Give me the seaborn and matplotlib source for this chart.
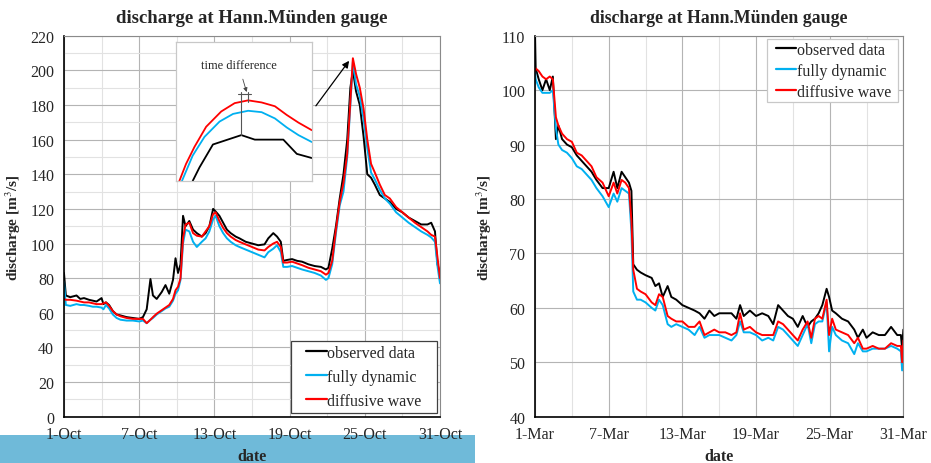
import matplotlib

matplotlib.use("Agg")

import matplotlib.pyplot as plt
import pandas as pd
import seaborn as sns
from matplotlib.legend_handler import HandlerLine2D
from matplotlib.lines import Line2D
from matplotlib.patches import Rectangle
from matplotlib.ticker import FixedLocator, MultipleLocator

# ---- October event (left panel) ----
oct_days = [
    1.0, 1.15, 1.5, 2.0, 2.3, 2.6, 3.0, 3.3, 3.6, 4.0, 4.15, 4.35, 4.6, 4.9,
    5.2, 5.5, 6.0, 6.5, 7.0, 7.3, 7.6, 7.9, 8.1, 8.4, 8.8, 9.1, 9.4, 9.7, 9.9,
    10.1, 10.3, 10.5, 10.7, 11.0, 11.3, 11.6, 12.0, 12.3, 12.6, 12.9, 13.1,
    13.4, 13.7, 14.0, 14.3, 14.7, 15.0, 15.5, 16.0, 16.5, 17.0, 17.3, 17.7,
    18.0, 18.3, 18.5, 18.8, 19.2, 19.6, 20.0, 20.5, 21.0, 21.5, 21.9, 22.1,
    22.4, 22.7, 23.0, 23.3, 23.6, 23.85, 24.05, 24.3, 24.6, 24.9, 25.2, 25.5,
    25.8, 26.2, 26.6, 27.0, 27.5, 28.0, 28.5, 29.0, 29.5, 30.0, 30.3, 30.6,
    30.8, 31.0,
]
oct_observed = [
    83, 70, 69, 70, 68, 68.5, 67.5, 67, 66.5, 68.5, 65, 66, 64.5, 61,
    59, 58.5, 57.5, 57, 56.5, 57.5, 62, 79.5, 70, 68, 72, 76, 71, 79, 91.5,
    83, 88, 116, 110, 113, 108, 106, 104, 106, 110, 120, 118.5,
    116, 112, 108, 106, 104, 103, 101, 100, 99, 99.5, 103, 106,
    104, 101, 90, 90.5, 91, 90, 89.5, 88, 87, 86.5, 85, 86,
    97, 110, 126, 140, 160, 190, 200, 188, 180, 162, 140, 138,
    134, 128, 126, 124, 120, 118, 115, 113, 111, 111, 112, 107,
    88, 83,
]
oct_dynamic = [
    78, 64.5, 64, 65, 64.5, 64.5, 64, 63.5, 63.5, 63, 62, 64.5, 62.5, 59,
    57, 56, 55.5, 55.5, 55, 55.5, 54, 56, 57, 59, 61, 62.5, 63.5, 67, 71,
    73, 79, 100, 108, 107, 101, 98, 101, 103, 107, 114, 116,
    110, 106, 103, 101, 99, 98, 96.5, 95, 93.5, 92, 95, 97,
    99, 95, 86.5, 86.5, 87, 86, 85, 84, 83, 81.5, 79, 80,
    88, 106, 122, 130, 150, 180, 205, 192, 185, 172, 155, 141,
    137, 131, 126, 123, 118, 115, 112, 109.5, 107, 105, 103.5, 101,
    87, 77,
]
oct_diffusive = [
    68, 67.5, 67.5, 67, 66.5, 66, 66, 65.5, 65, 65, 65.5, 66, 64, 61,
    59, 58, 57, 56.5, 56.5, 56.5, 54, 56, 57.5, 59.5, 61.5, 63, 64.5, 68, 73,
    75, 80, 103, 111, 112, 106, 104.5, 104, 107, 110, 117, 118,
    113, 109, 106, 104, 102, 101, 99.5, 98, 96.5, 96, 98, 100,
    101, 98, 89, 89, 89.5, 88.5, 87.5, 86, 85, 84, 82, 83,
    90, 108, 124, 135, 152, 182, 207, 198, 190, 178, 160, 146,
    141, 134, 128, 126, 121, 118, 115, 112, 109.5, 107, 105, 104,
    92, 80,
]

# ---- March event (right panel) ----
mar_days = [
    1.0, 1.05, 1.3, 1.6, 1.9, 2.2, 2.45, 2.7, 2.9, 3.2, 3.6, 4.0, 4.4, 4.8,
    5.2, 5.6, 6.0, 6.5, 7.0, 7.4, 7.7, 8.05, 8.35, 8.65, 8.85, 9.0, 9.3, 9.6,
    10.0, 10.5, 10.8, 11.1, 11.4, 11.8, 12.1, 12.5, 13.0, 13.5, 14.0, 14.4,
    14.8, 15.2, 15.6, 16.0, 16.5, 17.0, 17.4, 17.7, 18.0, 18.5, 19.0, 19.5,
    20.0, 20.4, 20.8, 21.2, 21.6, 22.0, 22.4, 22.8, 23.2, 23.5, 23.8, 24.1,
    24.4, 24.75, 24.95, 25.2, 25.5, 26.0, 26.5, 27.0, 27.3, 27.7, 28.0, 28.5,
    29.0, 29.5, 30.0, 30.5, 30.8, 30.9, 31.0,
]
mar_observed = [
    110, 104, 102, 100, 102, 100, 102.5, 91, 93.5, 91, 90, 89.5, 88, 87,
    86, 85, 83.5, 82, 82, 85, 82, 85, 84, 83, 81.5, 68, 67, 66.5,
    66, 65.5, 64, 64.5, 62, 64, 62, 61.5, 60.5, 60, 59.5, 59,
    58, 59.5, 58.5, 59, 59, 59, 58, 60.5, 58.5, 59.5, 58.5, 59,
    58.5, 57, 60.5, 59.5, 58.5, 58, 56.5, 58.5, 56.5, 57.5, 58, 59,
    60.5, 63.5, 62, 59.5, 59, 58, 57.5, 56, 54.5, 56, 54.5, 55.5,
    55, 55, 56.5, 55, 55, 52.5, 56,
]
mar_dynamic = [
    103.5, 102, 100.5, 99.5, 99.5, 99.5, 100, 93, 90, 89, 88.5, 87.5, 86, 85.5,
    84.5, 83.5, 82, 80.5, 78.5, 81, 79.5, 82, 81.5, 81, 74, 63, 61.5, 61.5,
    61, 60, 59.5, 61.5, 60.5, 57, 56.5, 57, 56.5, 56, 55, 56.5,
    54.5, 55, 55, 55, 54.5, 54, 55, 57.5, 55.5, 55.5, 55, 54,
    54.5, 54, 56.5, 56, 55, 54, 53, 55, 57, 53.5, 57, 57.5,
    57.5, 61, 52, 56.5, 55, 54, 53.5, 51.5, 53.5, 52, 52, 52.5,
    52.5, 52.5, 53, 52.5, 52, 48.5, 53,
]
mar_diffusive = [
    103.5, 104, 103.5, 102.5, 102, 102.5, 102, 95, 93.5, 92, 91, 90.5, 88.5, 88,
    87, 86, 84, 83, 80.5, 83, 81, 83.5, 83, 82, 76, 67, 63.5, 63,
    62.5, 61, 60.5, 62.5, 62, 58.5, 58, 57.5, 57.5, 56.5, 56.5, 57.5,
    55, 55.5, 56, 55.5, 55.5, 55, 55.5, 59, 56, 56.5, 55.5, 55,
    55, 55, 57.5, 57, 56, 55, 54, 56, 57.5, 54.5, 58, 58.5,
    58, 61.5, 55, 58, 56, 55.5, 55, 53.5, 54.5, 52.5, 52.5, 53,
    52.5, 52.5, 53.5, 53, 53, 50, 54,
]

# ---- inset: close-up of the October peak ----
inset_obs_x = [1.23, 1.73, 2.72, 4.81, 5.8, 7.9, 8.89, 10.0]
inset_obs_y = [150, 153.9, 160.5, 163.2, 161.9, 161.9, 157.8, 156.6]
inset_dyn_x = [0.44, 1.23, 2.1, 3.21, 4.2, 5.31, 6.3, 7.28, 8.15, 9.01, 10.0]
inset_dyn_y = [150, 157.3, 162.7, 167.1, 169.3, 170.2, 169.8, 168, 165.4, 163.2, 161.2]
inset_dif_x = [0.25, 0.74, 1.36, 2.22, 3.33, 4.32, 5.31, 6.3, 7.28, 8.15, 9.01, 10.0]
inset_dif_y = [150, 154.9, 159.8, 165.6, 170, 172.4, 173.2, 172.6, 171.5, 169, 166.8, 164.6]

series_names = ["observed data", "fully dynamic", "diffusive wave"]
series_colors = ["#000000", "#00b0f0", "#ff0000"]
oct_labels = ["1-Oct", "7-Oct", "13-Oct", "19-Oct", "25-Oct", "31-Oct"]
mar_labels = ["1-Mar", "7-Mar", "13-Mar", "19-Mar", "25-Mar", "31-Mar"]
label_days = [1, 7, 13, 19, 25, 31]


def long_frame(days, values):
    parts = []
    for name, vals in zip(series_names, values):
        parts.append(pd.DataFrame({"day": days, "discharge": vals, "series": name}))
    return pd.concat(parts, ignore_index=True)


sns.set_style("white")
plt.rcParams["font.family"] = ["Liberation Serif", "DejaVu Serif"]
plt.rcParams["mathtext.fontset"] = "stix"

palette = dict(zip(series_names, series_colors))
fig = plt.figure(figsize=(9.31, 4.64), dpi=100)

# slide bar behind the lower-left corner
fig.add_artist(Rectangle((0, 0), 0.51, 0.0603, transform=fig.transFigure,
                         facecolor="#6fbad9", edgecolor="none", zorder=-1))

ax_oct = fig.add_axes([0.0687, 0.0998, 0.4039, 0.8211])
ax_mar = fig.add_axes([0.5747, 0.0998, 0.3956, 0.8211])

# legend styling per panel: anchor box, frame colour, spacing, padding
legend_styles = [
    dict(loc="lower left", bbox_to_anchor=(0.603, 0.0097, 0.388, 0),
         edge="#404040", spacing=0.5, pad=0.25, xpad=0.7, hlen=2.0),
    dict(loc="upper left", bbox_to_anchor=(0.630, 0.991, 0.356, 0),
         edge="#c8c8c8", spacing=0.3, pad=0.18, xpad=0.35, hlen=1.65),
]

panels = [
    (ax_oct, long_frame(oct_days, [oct_observed, oct_dynamic, oct_diffusive]),
     oct_labels, (0, 220), 20, 10, 13.5),
    (ax_mar, long_frame(mar_days, [mar_observed, mar_dynamic, mar_diffusive]),
     mar_labels, (40, 110), 10, None, 12.8),
]

for (ax, frame, labels, ylim, ymajor, yminor, title_size), style in zip(panels, legend_styles):
    sns.lineplot(data=frame, x="day", y="discharge", hue="series",
                 hue_order=series_names, palette=palette, sort=False,
                 errorbar=None, linewidth=1.4, legend=False, ax=ax)
    ax.set_xlim(1, 31)
    ax.set_ylim(*ylim)
    ax.xaxis.set_major_locator(FixedLocator(label_days))
    ax.set_xticklabels(labels)
    ax.xaxis.set_minor_locator(FixedLocator([4, 10, 16, 22, 28]))
    ax.yaxis.set_major_locator(MultipleLocator(ymajor))
    if yminor:
        ax.yaxis.set_minor_locator(MultipleLocator(yminor))
    ax.grid(which="major", color="#b4b4b4", linewidth=0.8)
    ax.grid(which="minor", color="#e2e2e2", linewidth=0.8)
    ax.set_axisbelow(True)
    ax.tick_params(axis="both", which="major", direction="out", length=4,
                   width=0.8, color="#555555", labelsize=11.5, pad=3)
    ax.tick_params(axis="both", which="minor", length=0)
    for side in ("left", "bottom"):
        ax.spines[side].set_color("black")
        ax.spines[side].set_linewidth(1.2)
    for side in ("top", "right"):
        ax.spines[side].set_color("#8a8a8a")
        ax.spines[side].set_linewidth(0.8)
    ax.set_title("discharge at Hann.Münden gauge", fontsize=title_size,
                 fontweight="bold", pad=10)
    ax.set_xlabel("date", fontsize=11.5, fontweight="bold", labelpad=4)
    ax.set_ylabel("discharge [m$^{3}$/s]", fontsize=11, fontweight="bold",
                  labelpad=5)
    handles = [Line2D([], [], color=c, linewidth=1.6) for c in series_colors]
    legend = ax.legend(handles, series_names, loc=style["loc"],
                       bbox_to_anchor=style["bbox_to_anchor"], mode="expand",
                       fontsize=11.5, frameon=True, fancybox=False,
                       handlelength=style["hlen"], handletextpad=0.05,
                       borderpad=style["pad"], labelspacing=style["spacing"],
                       borderaxespad=0, framealpha=1,
                       handler_map={Line2D: HandlerLine2D(xpad=style["xpad"])})
    legend.get_frame().set_edgecolor(style["edge"])
    legend.get_frame().set_linewidth(0.9)

# inset with the peak close-up
ax_in = fig.add_axes([0.189, 0.6078, 0.146, 0.2996])
for xs, ys, color in [(inset_obs_x, inset_obs_y, series_colors[0]),
                      (inset_dyn_x, inset_dyn_y, series_colors[1]),
                      (inset_dif_x, inset_dif_y, series_colors[2])]:
    sns.lineplot(x=xs, y=ys, color=color, sort=False, errorbar=None,
                 linewidth=1.3, ax=ax_in)
ax_in.set_xlim(0, 10)
ax_in.set_ylim(150, 190)
ax_in.set_xticks([])
ax_in.set_yticks([])
for spine in ax_in.spines.values():
    spine.set_color("#c8c8c8")
    spine.set_linewidth(0.9)
ax_in.plot([4.77, 4.77], [175.6, 163.2], color="#555555", linewidth=0.8)
ax_in.plot([5.31, 5.31], [175.6, 172.6], color="#555555", linewidth=0.8)
ax_in.plot([4.55, 5.55], [174.9, 174.9], color="#555555", linewidth=0.8)
ax_in.annotate("time difference", xy=(5.2, 175.6), xytext=(4.6, 183.5),
               ha="center", va="center", fontsize=9,
               arrowprops=dict(arrowstyle="-|>", color="#444444", lw=0.6,
                               mutation_scale=6, shrinkA=4, shrinkB=0))

ax_oct.annotate("", xy=(23.75, 205.5), xytext=(21.1, 179.5),
                arrowprops=dict(arrowstyle="-|>", color="black", lw=0.9,
                                mutation_scale=10, shrinkA=0, shrinkB=0))

fig.savefig("out.png", dpi=100)
